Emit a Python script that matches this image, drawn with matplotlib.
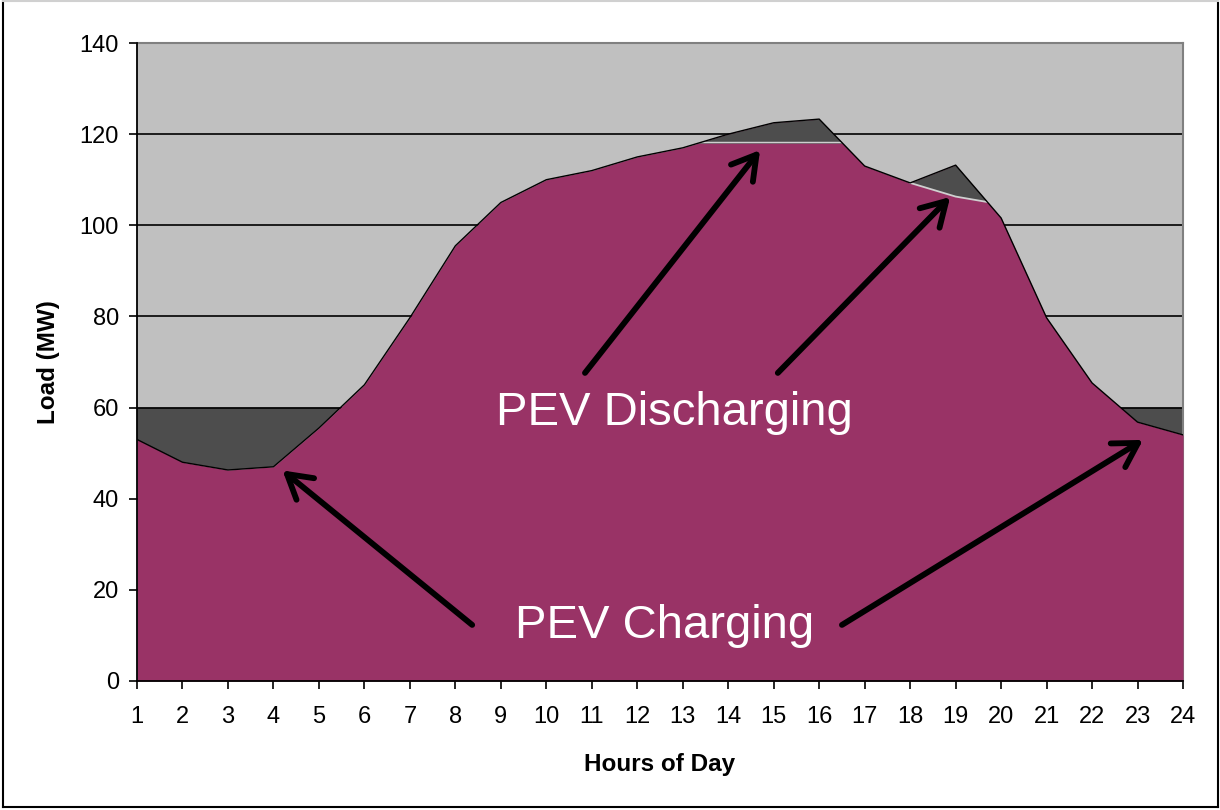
import numpy as np
import matplotlib
matplotlib.use('Agg')
import matplotlib.pyplot as plt
from matplotlib.lines import Line2D

plt.rcParams['font.family'] = ['Liberation Sans', 'DejaVu Sans']

# hourly load (MW)
hours = np.arange(1, 25)
load_mw = np.array([53, 48, 46.3, 47, 55.5, 65, 79.7, 95.5, 105, 110, 112, 115,
                    117, 120, 122.5, 123.3, 113, 109.3, 113.2, 101.6, 79.7, 65.4,
                    56.8, 54])

charge_level = 60      # valley filled up to this by charging
peak_cap = 118         # midday peak shaved down to this

# evening discharge wedge
evening_hours = [18, 19, 19.7]
evening_top = [109.3, 113.2, 105.1]
evening_net = [109.3, 106.3, 105.1]

purple = '#993366'
dark = '#4d4d4d'
light = '#d0d0d0'

fig = plt.figure(figsize=(12.2, 8.1), dpi=100)
ax = fig.add_axes([0.1123, 0.1593, 0.8574, 0.7876])
ax.set_facecolor('#c0c0c0')

# gridlines
for g in range(20, 140, 20):
    ax.axhline(g, color='black', lw=1.2, zorder=2.5)

# charging (valley fill)
ax.fill_between(hours, load_mw, charge_level, where=load_mw < charge_level,
                interpolate=True, color=dark, lw=0, zorder=2)

# base load
ax.fill_between(hours, 0, load_mw, color=purple, lw=0, zorder=3)

# discharging (peak shaving)
peak = ax.fill_between(hours, peak_cap, load_mw, where=load_mw > peak_cap,
                       interpolate=True, color=dark, lw=0, zorder=4)
cap_line = ax.axhline(peak_cap, color=light, lw=2.5, zorder=5)
cap_line.set_clip_path(peak.get_paths()[0], ax.transData)

ax.fill_between(evening_hours, evening_net, evening_top, color=dark, lw=0, zorder=4)
ax.plot(evening_hours, evening_net, color=light, lw=1.3, zorder=5)

# outline of load curve
ax.plot(hours, load_mw, color='black', lw=1, zorder=6)

ax.set_xlim(1, 24)
ax.set_ylim(0, 140)
ax.set_xticks(hours)
ax.set_yticks(range(0, 141, 20))
ax.tick_params(axis='both', direction='out', length=6, width=1.2,
               labelsize=17, colors='black')
ax.tick_params(axis='x', pad=12)
ax.tick_params(axis='y', pad=7)
for s in ['left', 'bottom']:
    ax.spines[s].set_color('black')
    ax.spines[s].set_linewidth(1.3)
    ax.spines[s].set_zorder(7)
for s in ['top', 'right']:
    ax.spines[s].set_color('#808080')
    ax.spines[s].set_linewidth(1.5)

ax.set_xlabel('Hours of Day', fontsize=17.5, fontweight='bold', labelpad=18)
ax.set_ylabel('Load (MW)', fontsize=17.5, fontweight='bold', labelpad=14)

# annotations
arrow = dict(arrowstyle='->,head_length=0.85,head_width=0.5', lw=4.2,
             color='black', mutation_scale=20, shrinkA=0, shrinkB=0)
ax.annotate('', xy=(14.7, 116.5), xytext=(10.85, 67.6), arrowprops=arrow, zorder=8)
ax.annotate('', xy=(18.88, 106.2), xytext=(15.09, 67.6), arrowprops=arrow, zorder=8)
ax.annotate('', xy=(4.2, 46.2), xytext=(8.37, 12.3), arrowprops=arrow, zorder=8)
ax.annotate('', xy=(23.12, 52.9), xytext=(16.5, 12.3), arrowprops=arrow, zorder=8)

ax.text(12.81, 58.8, 'PEV Discharging', color='white', fontsize=34,
        ha='center', va='center', zorder=9)
ax.text(12.59, 12.1, 'PEV Charging', color='white', fontsize=34,
        ha='center', va='center', zorder=9)

# outer frame of the picture
fig.add_artist(Line2D([0.0025, 0.0025], [0.004, 1], color='black', lw=1.5))
fig.add_artist(Line2D([0.9985, 0.9985], [0.004, 1], color='black', lw=1.5))
fig.add_artist(Line2D([0.0025, 0.9985], [0.004, 0.004], color='black', lw=1.5))
fig.add_artist(Line2D([0.0025, 0.9985], [0.999, 0.999], color='#d0d0d0', lw=1.5))

fig.savefig('out.png', dpi=100)
